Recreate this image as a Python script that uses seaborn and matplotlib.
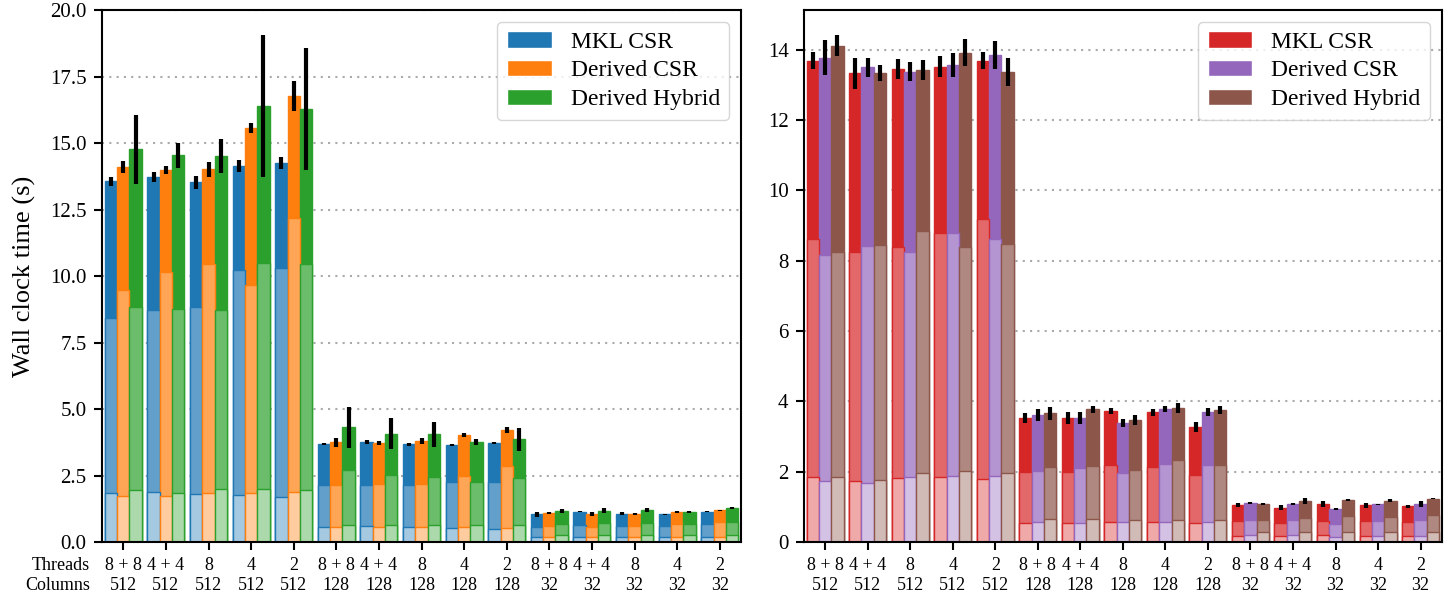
import numpy as np
import pandas as pd
import matplotlib
matplotlib.use("Agg")
import matplotlib.pyplot as plt
import matplotlib.transforms as mtransforms
from matplotlib.colors import to_rgb
from matplotlib.patches import Patch
import seaborn as sns

# ---------------------------------------------------------------- data
threads = ["8 + 8", "4 + 4", "8", "4", "2"] * 3
columns = ["512"] * 5 + ["128"] * 5 + ["32"] * 5
methods = ["MKL CSR", "Derived CSR", "Derived Hybrid"]

# left panel: stacked phases (total, middle boundary, lower boundary) and error
mkl_total_L = [13.57, 13.72, 13.52, 14.14, 14.24, 3.68, 3.76, 3.67, 3.66, 3.73, 1.04, 1.14, 1.06, 1.05, 1.13]
mkl_mid_L = [8.43, 8.72, 8.85, 10.23, 10.31, 2.14, 2.16, 2.13, 2.27, 2.24, 0.56, 0.65, 0.60, 0.59, 0.66]
mkl_low_L = [1.84, 1.87, 1.79, 1.77, 1.68, 0.55, 0.60, 0.55, 0.51, 0.49, 0.18, 0.19, 0.18, 0.19, 0.19]
mkl_err_L = [0.17, 0.19, 0.23, 0.24, 0.22, 0.05, 0.09, 0.07, 0.04, 0.03, 0.09, 0.03, 0.05, 0.02, 0.02]

dcsr_total_L = [14.09, 13.98, 14.02, 15.56, 16.77, 3.75, 3.72, 3.80, 4.01, 4.21, 1.09, 1.04, 1.05, 1.13, 1.20]
dcsr_mid_L = [9.47, 10.17, 10.47, 9.66, 12.18, 2.14, 2.19, 2.19, 2.48, 2.87, 0.60, 0.56, 0.59, 0.66, 0.74]
dcsr_low_L = [1.74, 1.73, 1.83, 1.83, 1.87, 0.55, 0.55, 0.55, 0.55, 0.53, 0.18, 0.18, 0.18, 0.18, 0.18]
dcsr_err_L = [0.22, 0.16, 0.28, 0.20, 0.56, 0.17, 0.09, 0.12, 0.08, 0.11, 0.02, 0.07, 0.04, 0.03, 0.02]

hyb_total_L = [14.77, 14.55, 14.51, 16.39, 16.29, 4.31, 4.07, 4.05, 3.76, 3.87, 1.15, 1.18, 1.20, 1.14, 1.27]
hyb_mid_L = [8.85, 8.75, 8.72, 10.48, 10.44, 2.71, 2.53, 2.46, 2.27, 2.42, 0.69, 0.70, 0.73, 0.69, 0.76]
hyb_low_L = [1.95, 1.85, 1.99, 1.98, 1.95, 0.65, 0.64, 0.63, 0.65, 0.63, 0.26, 0.26, 0.28, 0.26, 0.26]
hyb_err_L = [1.30, 0.47, 0.65, 2.68, 2.30, 0.78, 0.58, 0.47, 0.10, 0.43, 0.075, 0.09, 0.09, 0.04, 0.04]

# right panel
mkl_total_R = [13.69, 13.33, 13.46, 13.52, 13.69, 3.53, 3.52, 3.72, 3.69, 3.26, 1.05, 0.98, 1.08, 1.04, 1.02]
mkl_mid_R = [8.61, 8.26, 8.40, 8.78, 9.19, 2.00, 2.00, 2.19, 2.14, 1.91, 0.60, 0.55, 0.61, 0.61, 0.58]
mkl_low_R = [1.86, 1.74, 1.83, 1.85, 1.78, 0.53, 0.53, 0.56, 0.56, 0.55, 0.18, 0.17, 0.19, 0.18, 0.18]
mkl_err_R = [0.25, 0.45, 0.29, 0.30, 0.24, 0.14, 0.17, 0.09, 0.10, 0.14, 0.06, 0.08, 0.08, 0.07, 0.04]

dcsr_total_R = [13.78, 13.50, 13.38, 13.56, 13.86, 3.61, 3.52, 3.39, 3.79, 3.69, 1.12, 1.08, 0.94, 1.07, 1.08]
dcsr_mid_R = [8.15, 8.42, 8.24, 8.80, 8.63, 2.02, 2.10, 1.95, 2.22, 2.20, 0.63, 0.62, 0.50, 0.61, 0.62]
dcsr_low_R = [1.74, 1.68, 1.86, 1.87, 1.88, 0.56, 0.53, 0.56, 0.57, 0.57, 0.19, 0.19, 0.15, 0.18, 0.18]
dcsr_err_R = [0.51, 0.28, 0.27, 0.34, 0.40, 0.17, 0.17, 0.11, 0.09, 0.11, 0.03, 0.04, 0.03, 0.02, 0.08]

hyb_total_R = [14.12, 13.34, 13.43, 13.92, 13.38, 3.66, 3.78, 3.47, 3.81, 3.75, 1.07, 1.16, 1.20, 1.18, 1.23]
hyb_mid_R = [8.26, 8.46, 8.84, 8.39, 8.48, 2.13, 2.17, 2.04, 2.33, 2.18, 0.62, 0.69, 0.74, 0.72, 0.76]
hyb_low_R = [1.86, 1.76, 1.95, 2.02, 1.97, 0.65, 0.65, 0.62, 0.64, 0.64, 0.28, 0.28, 0.28, 0.28, 0.28]
hyb_err_R = [0.30, 0.22, 0.29, 0.38, 0.40, 0.18, 0.10, 0.14, 0.13, 0.11, 0.03, 0.09, 0.03, 0.03, 0.02]

colors_L = {"MKL CSR": "#1f77b4", "Derived CSR": "#ff7f0e", "Derived Hybrid": "#2ca02c"}
colors_R = {"MKL CSR": "#d62728", "Derived CSR": "#9467bd", "Derived Hybrid": "#8c564b"}

configs = [f"{t}\n{c}" for t, c in zip(threads, columns)]


def make_frame(series):
    rows = []
    for m, (tot, mid, low, err) in zip(methods, series):
        for i, cfg in enumerate(configs):
            rows.append({"config": cfg, "method": m, "total": tot[i],
                         "mid": mid[i], "low": low[i], "err": err[i]})
    return pd.DataFrame(rows)


df_L = make_frame([(mkl_total_L, mkl_mid_L, mkl_low_L, mkl_err_L),
                   (dcsr_total_L, dcsr_mid_L, dcsr_low_L, dcsr_err_L),
                   (hyb_total_L, hyb_mid_L, hyb_low_L, hyb_err_L)])
df_R = make_frame([(mkl_total_R, mkl_mid_R, mkl_low_R, mkl_err_R),
                   (dcsr_total_R, dcsr_mid_R, dcsr_low_R, dcsr_err_R),
                   (hyb_total_R, hyb_mid_R, hyb_low_R, hyb_err_R)])

# ---------------------------------------------------------------- style
sns.set_style("ticks")
plt.rcParams["font.family"] = ["Liberation Serif", "DejaVu Serif"]
plt.rcParams["axes.edgecolor"] = "black"
plt.rcParams["axes.linewidth"] = 1.5
plt.rcParams["xtick.color"] = "black"
plt.rcParams["ytick.color"] = "black"
plt.rcParams["text.color"] = "black"
plt.rcParams["axes.labelcolor"] = "black"

TICK_LEN = 6
TICK_PAD = 5
XTICK_SIZE = 13


def shade(color, alpha):
    c = np.array(to_rgb(color))
    return tuple(alpha * c + (1 - alpha) * np.ones(3))


def draw_panel(ax, df, colors):
    n_before = len(ax.containers)
    for layer, a in [("total", 1.0), ("mid", 0.7), ("low", 0.4)]:
        pal = {m: shade(colors[m], a) for m in methods}
        sns.barplot(data=df, x="config", y=layer, hue="method", order=configs,
                    hue_order=methods, palette=pal, saturation=1, width=0.87,
                    errorbar=None, legend=False, linewidth=1.0, ax=ax)
        for cont, m in zip(ax.containers[-3:], methods):
            for p in cont:
                p.set_edgecolor(colors[m])
    # error bars on the totals
    for cont, m in zip(ax.containers[n_before:n_before + 3], methods):
        sub = df[df["method"] == m].set_index("config").loc[configs]
        xs = [p.get_x() + p.get_width() / 2 for p in cont]
        ys = [p.get_height() for p in cont]
        ax.errorbar(xs, ys, yerr=sub["err"].values, fmt="none", ecolor="black",
                    elinewidth=3, capsize=0, zorder=5)

    ax.set_xlabel("")
    ax.set_ylabel("")
    ax.set_xlim(-0.5, len(configs) - 0.5)
    ax.set_axisbelow(True)
    ax.yaxis.grid(True, linestyle=(0, (1, 2.5)), color="#aaaaaa", linewidth=1.5)
    ax.xaxis.grid(False)
    ax.tick_params(axis="both", direction="out", length=TICK_LEN, width=1.5,
                   pad=TICK_PAD)
    ax.tick_params(axis="x", labelsize=XTICK_SIZE)
    ax.tick_params(axis="y", labelsize=15)
    for s in ax.spines.values():
        s.set_visible(True)
        s.set_color("black")
        s.set_linewidth(1.5)
    handles = [Patch(facecolor=colors[m], label=m) for m in methods]
    ax.legend(handles=handles, loc="upper right", fontsize=17,
              frameon=True, edgecolor="0.8", framealpha=0.8,
              handlelength=1.9, labelspacing=0.3, borderaxespad=0.5)


fig = plt.figure(figsize=(14.51, 5.93), dpi=100)
ax1 = fig.add_axes([0.0703, 0.086, 0.4404, 0.897])
ax2 = fig.add_axes([0.554, 0.086, 0.4397, 0.897])

draw_panel(ax1, df_L, colors_L)
draw_panel(ax2, df_R, colors_R)

ax1.set_ylim(0, 20)
ax1.set_yticks(np.arange(0, 20.01, 2.5))
ax1.set_yticklabels([f"{v:.1f}" for v in np.arange(0, 20.01, 2.5)])
ax1.set_ylabel("Wall clock time (s)", fontsize=19, labelpad=10)

ax2.set_ylim(0, 15.13)
ax2.set_yticks(np.arange(0, 15, 2))
ax2.set_yticklabels([f"{v:d}" for v in np.arange(0, 15, 2)])

# row captions for the two-line tick labels
cap_tr = mtransforms.offset_copy(ax1.transAxes, fig=fig, x=-3,
                                 y=-(TICK_LEN + TICK_PAD), units="points")
ax1.text(-0.012, 0, "Threads\nColumns", transform=cap_tr, ha="right", va="top",
         fontsize=XTICK_SIZE, linespacing=1.2, multialignment="right")

fig.savefig("out.png", dpi=100)
